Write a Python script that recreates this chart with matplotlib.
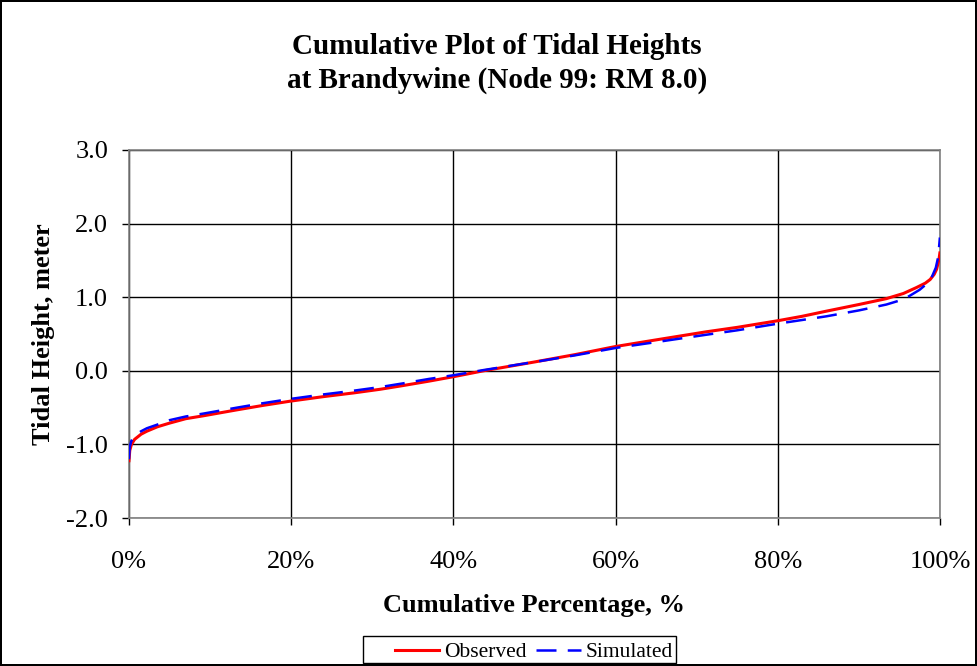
import matplotlib

matplotlib.use("Agg")
import matplotlib.pyplot as plt
import matplotlib.ticker as mticker
from matplotlib.patches import Rectangle

plt.rcParams["font.family"] = ["Liberation Serif", "DejaVu Serif"]

# cumulative percentage (%) and tidal height (m)
pct_obs = [0, 0.1, 0.3, 0.7, 1.5, 2.2, 3.5, 5, 7, 9.2, 13.3, 16.5, 20, 24,
           27.7, 31, 33.8, 37, 40, 43.7, 50, 55, 60, 65, 71.2, 75, 80, 83,
           86, 90, 93.4, 95.5, 97.1, 98.2, 98.8, 99.3, 99.6, 99.9, 100]
obs = [-1.22, -1.08, -1.0, -0.93, -0.86, -0.82, -0.76, -0.71, -0.65, -0.61,
       -0.53, -0.47, -0.41, -0.35, -0.30, -0.25, -0.20, -0.14, -0.08, 0.0,
       0.12, 0.22, 0.33, 0.42, 0.53, 0.59, 0.68, 0.74, 0.81, 0.90, 0.98,
       1.05, 1.13, 1.19, 1.24, 1.31, 1.38, 1.52, 1.60]

pct_sim = [0, 0.1, 0.3, 0.7, 1.5, 2.2, 3.5, 5, 7, 9.2, 13.3, 16.5, 20, 24,
           27.7, 31, 33.8, 37, 40, 43.7, 50, 55, 60, 65, 71.2, 75, 80, 83,
           86, 90, 93.4, 95.5, 96.3, 97.5, 98.8, 99.5, 99.8, 100]
sim = [-1.2, -1.03, -0.95, -0.88, -0.82, -0.78, -0.73, -0.67, -0.62, -0.58,
       -0.50, -0.44, -0.38, -0.32, -0.27, -0.22, -0.17, -0.11, -0.06, 0.01,
       0.12, 0.21, 0.31, 0.39, 0.49, 0.55, 0.64, 0.69, 0.74, 0.82, 0.90,
       0.97, 1.02, 1.10, 1.22, 1.40, 1.55, 1.81]

x_ticks = [0, 20, 40, 60, 80, 100]
y_ticks = [-2.0, -1.0, 0.0, 1.0, 2.0, 3.0]

fig = plt.figure(figsize=(9.77, 6.66), dpi=100, edgecolor="black", linewidth=1.5)
ax = fig.add_axes([0.132, 0.222, 0.830, 0.553])

ax.plot(pct_obs, obs, color="#ff0000", linewidth=2.2, label="Observed", zorder=3)
ax.plot(pct_sim, sim, color="#0000ff", linewidth=1.8, dashes=(8, 4.5),
        label="Simulated", zorder=4)

ax.set_xlim(0, 100)
ax.set_ylim(-2.0, 3.0)
ax.set_xticks(x_ticks)
ax.set_yticks(y_ticks)
ax.xaxis.set_major_formatter(mticker.FuncFormatter(lambda v, _: f"{v:.0f}%"))
ax.yaxis.set_major_formatter(mticker.FuncFormatter(lambda v, _: f"{v:.1f}"))
ax.tick_params(axis="both", labelsize=19, direction="out", length=5, width=1,
               color="black")
ax.tick_params(axis="x", pad=18.5)
ax.tick_params(axis="y", pad=10)
ax.grid(True, color="black", linewidth=1)
for s in ax.spines.values():
    s.set_color("#808080")
    s.set_linewidth(1.2)

ax.set_xlabel("Cumulative Percentage, %", fontsize=19, fontweight="bold", labelpad=15.5)
ax.set_ylabel("Tidal Height, meter", fontsize=19, fontweight="bold", labelpad=8)

fig.text(0.509, 0.905, "Cumulative Plot of Tidal Heights\nat Brandywine (Node 99: RM 8.0)",
         ha="center", va="center", fontsize=21, fontweight="bold", linespacing=1.3)

# excel-style legend box: wider on the left than the entries need
fig.patches.append(Rectangle((0.3716, 0.004), 0.3204, 0.0405, transform=fig.transFigure,
                             facecolor="white", edgecolor="black", linewidth=1, zorder=1))
leg = fig.legend(loc="center", bbox_to_anchor=(0.5466, 0.021), ncol=2,
                 fontsize=15.5, frameon=False, handlelength=2.05,
                 handletextpad=0.23, columnspacing=0.45, borderpad=0.1,
                 borderaxespad=0)
leg.set_zorder(2)

fig.savefig("out.png", dpi=100, edgecolor=fig.get_edgecolor())
